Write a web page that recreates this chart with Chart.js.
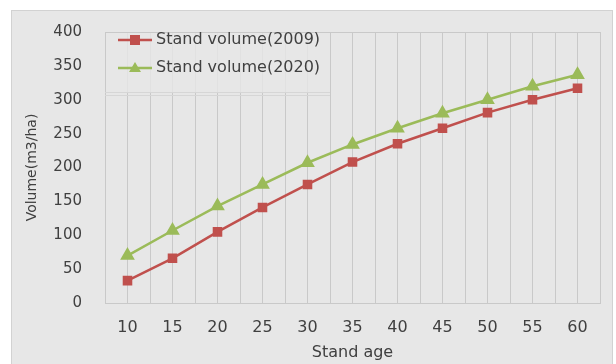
<!DOCTYPE html>
<html>
<head>
<meta charset="utf-8">
<script src="https://cdn.jsdelivr.net/npm/chart.js@4"></script>
<style>
  html, body { margin: 0; padding: 0; background: #fff; }
  #wrap { width: 616px; height: 364px; position: relative; }
</style>
</head>
<body>
<div id="wrap"><canvas id="chartVolume" width="616" height="364"></canvas></div>
<script>
// ── DATA ─────────────────────────────────────
const ages = [10, 15, 20, 25, 30, 35, 40, 45, 50, 55, 60];
const vol2009 = [33, 66, 105, 141, 175, 208, 235, 258, 281, 300, 317];
const vol2020 = [70, 107, 143, 175, 207, 234, 258, 280, 300, 320, 337];
const yTicks = [0, 50, 100, 150, 200, 250, 300, 350, 400];

const RED = '#c0504d';
const GREEN = '#9bbb59';
const TXT = '#404040';
const GRID = '#c9c9c9';
const FONT = '"DejaVu Sans", sans-serif';

const toPts = vals => ages.map((a, i) => ({ x: a, y: vals[i] }));

// background + frame of the picture
const frame = {
  id: 'frame',
  beforeDraw(chart) {
    const c = chart.ctx;
    c.save();
    c.fillStyle = '#e7e7e7';
    c.fillRect(11, 10, 602, 354);
    c.strokeStyle = '#d2d2d2';
    c.lineWidth = 1;
    c.strokeRect(11.5, 10.5, 601, 360);
    c.restore();
  }
};

// legend box in the top-left corner of the plot
const legendBox = {
  id: 'legendBox',
  beforeDatasetsDraw(chart) {
    const c = chart.ctx;
    const x = chart.scales.x;
    const left = x.left, right = x.getPixelForValue(32.5);
    const top = chart.chartArea.top + 1, bottom = 92;
    c.save();
    c.fillStyle = 'rgba(231,231,231,0.8)';
    c.fillRect(left + 1, top, right - left - 1, bottom - top);
    c.strokeStyle = '#d6d6d6';
    c.lineWidth = 1;
    c.beginPath();
    c.moveTo(left, bottom + 0.5); c.lineTo(right, bottom + 0.5);
    c.moveTo(left, bottom + 3.5); c.lineTo(right, bottom + 3.5);
    c.stroke();

    chart.data.datasets.forEach((ds, i) => {
      const cy = 40 + i * 28;
      c.strokeStyle = ds.borderColor;
      c.lineWidth = 2.5;
      c.beginPath();
      c.moveTo(118, cy); c.lineTo(152, cy);
      c.stroke();
      c.fillStyle = ds.pointBackgroundColor;
      if (ds.pointStyle === 'rect') {
        c.fillRect(130, cy - 5, 10, 10);
      } else {
        c.beginPath();
        c.moveTo(135, cy - 6); c.lineTo(141, cy + 4); c.lineTo(129, cy + 4);
        c.closePath(); c.fill();
      }
      c.fillStyle = TXT;
      c.font = '16px ' + FONT;
      c.textAlign = 'left';
      c.textBaseline = 'middle';
      c.fillText(ds.label, 156, cy);
    });
    c.restore();
  }
};

new Chart(document.getElementById('chartVolume'), {
  type: 'line',
  data: {
    datasets: [
      {
        label: 'Stand volume(2009)',
        data: toPts(vol2009),
        borderColor: RED, backgroundColor: RED,
        pointBackgroundColor: RED, pointBorderColor: RED,
        pointStyle: 'rect', pointRadius: 5, borderWidth: 2.5
      },
      {
        label: 'Stand volume(2020)',
        data: toPts(vol2020),
        borderColor: GREEN, backgroundColor: GREEN,
        pointBackgroundColor: GREEN, pointBorderColor: GREEN,
        pointStyle: 'triangle', pointRadius: 6, borderWidth: 2.5
      }
    ]
  },
  options: {
    responsive: false, animation: false,
    layout: { padding: { top: 29, right: 16, left: 0, bottom: 2 } },
    plugins: { legend: { display: false }, tooltip: { enabled: false } },
    scales: {
      x: {
        type: 'linear', min: 7.5, max: 62.5,
        afterFit: s => { s.height = 59; },
        grid: { color: GRID, drawTicks: false },
        border: { color: GRID },
        ticks: {
          stepSize: 2.5, autoSkip: false, maxRotation: 0, padding: 15,
          color: TXT, font: { family: FONT, size: 16 },
          callback: v => (v % 5 === 0 ? String(v) : '')
        },
        title: { display: true, text: 'Stand age', color: TXT, font: { family: FONT, size: 16 }, padding: { top: 0, bottom: 0 } }
      },
      y: {
        min: 0, max: 400,
        afterFit: s => { s.width = 105; },
        afterBuildTicks: s => { s.ticks = yTicks.map(v => ({ value: v })); },
        grid: { color: c => (c.tick && c.tick.value === 400 ? GRID : 'transparent'), drawTicks: false },
        border: { display: false },
        ticks: { padding: 23, color: TXT, font: { family: FONT, size: 15 } },
        title: { display: true, text: 'Volume(m3/ha)', color: TXT, font: { family: FONT, size: 14 }, padding: { top: 24, bottom: 0 } }
      }
    }
  },
  plugins: [frame, legendBox]
});
</script>
</body>
</html>
